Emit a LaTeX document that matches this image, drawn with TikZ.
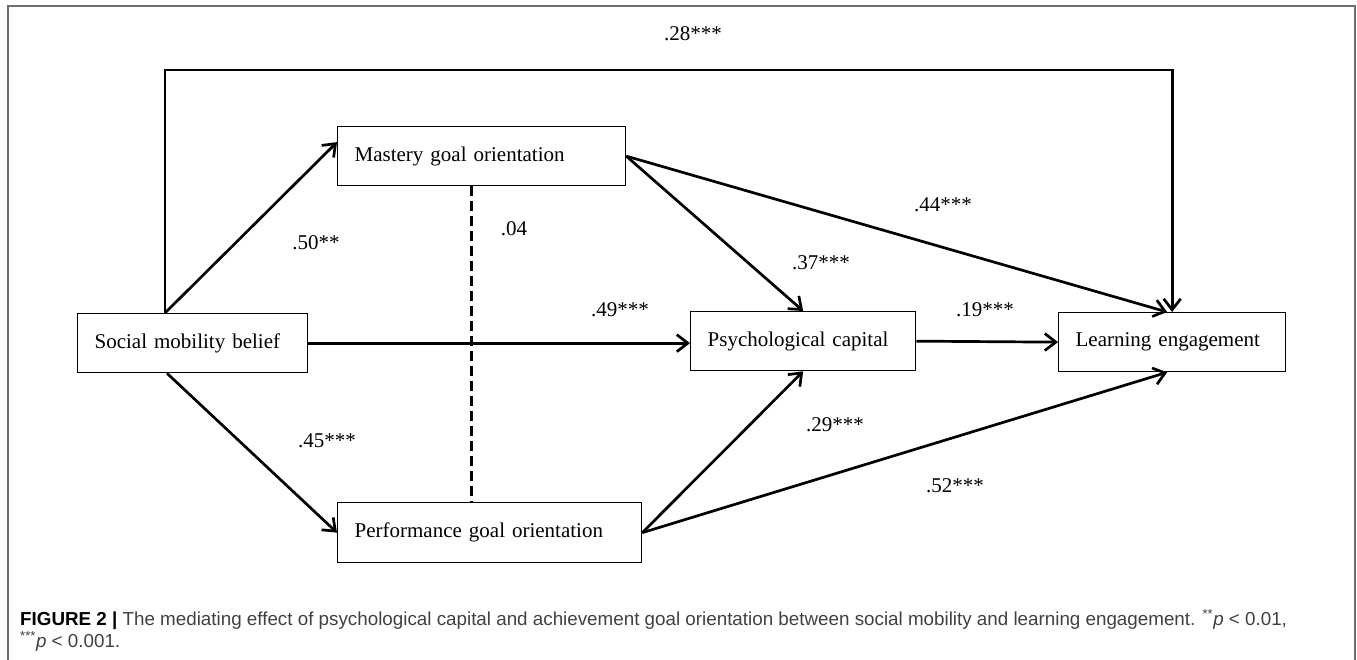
\documentclass[tikz,border=0pt]{standalone}
\usepackage{fontspec}
\setmainfont{Liberation Serif}
\newfontfamily\capfont{Liberation Sans}
\usetikzlibrary{arrows.meta}
\definecolor{framegray}{RGB}{110,110,110}
\definecolor{captext}{RGB}{64,64,64}

\begin{document}
\begin{tikzpicture}[x=1pt,y=-1pt,
  box/.style={draw,line width=1.3pt,anchor=north west,minimum height=59pt,inner xsep=17pt,align=left,font=\fontsize{21}{25}\selectfont},
  link/.style={line width=2.7pt,-{Straight Barb[length=11pt,width=17pt]}},
  coef/.style={font=\fontsize{21}{25}\selectfont}]
\useasboundingbox (0,0) rectangle (1357,660);
\draw[framegray,line width=1.5pt] (8,660) -- (8,6) -- (1355,6) -- (1355,660);

\node[box,text width=196pt] (smb) at (77,313) {Social mobility belief};
\node[box,text width=254pt] (mgo) at (337,126) {Mastery goal orientation};
\node[box,text width=270pt,minimum height=60pt] (pgo) at (337,502) {Performance goal orientation};
\node[box,text width=191pt] (pc) at (690,311) {Psychological capital};
\node[box,text width=193pt] (le) at (1058,312) {Learning engagement};

\draw[link] ([xshift=88pt]smb.north west) -- ++(0,-243) -| (le.north);
\draw[link] ([xshift=88pt]smb.north west) -- ([yshift=14pt]mgo.west);
\draw[link] ([xshift=90pt]smb.south west) -- (pgo.west);
\draw[link] (smb.east) -- (smb.east -| pc.west);
\draw[link] (mgo.east) -- (pc.north);
\draw[link] (mgo.east) -- ([xshift=-5pt]le.north);
\draw[link] (pc.east) -- (le.west);
\draw[link] (pgo.east) -- (pc.south);
\draw[link] (pgo.east) -- ([xshift=-5pt]le.south);
\coordinate (dtop) at ([xshift=-10pt]mgo.south);
\draw[line width=2.7pt,dash pattern=on 10pt off 5pt] (dtop) -- (dtop |- pgo.north);

\node[coef] (c28) at (693,34) {.28***};
\node[coef] (c50) at (316,243) {.50**};
\node[coef] (c04) at (514,229) {.04};
\node[coef] (c44) at (943,205) {.44***};
\node[coef] (c37) at (821,263) {.37***};
\node[coef] (c49) at (620,310) {.49***};
\node[coef] (c19) at (985,310) {.19***};
\node[coef] (c29) at (835,425) {.29***};
\node[coef] (c45) at (327,441) {.45***};
\node[coef] (c52) at (955,486) {.52***};

\node[anchor=base west,inner sep=0pt,text=captext,font=\capfont\fontsize{18.8}{22}\selectfont] (cap1) at (20,625)
  {\textcolor{black}{\bfseries FIGURE 2 |} The mediating effect of psychological capital and achievement goal orientation between social mobility and learning engagement. \textsuperscript{**}\textit{p} < 0.01,};
\node[anchor=base west,inner sep=0pt,text=captext,font=\capfont\fontsize{18.8}{22}\selectfont] (cap2) at (20,647)
  {\textsuperscript{***}\textit{p} < 0.001.};
\end{tikzpicture}
\end{document}
